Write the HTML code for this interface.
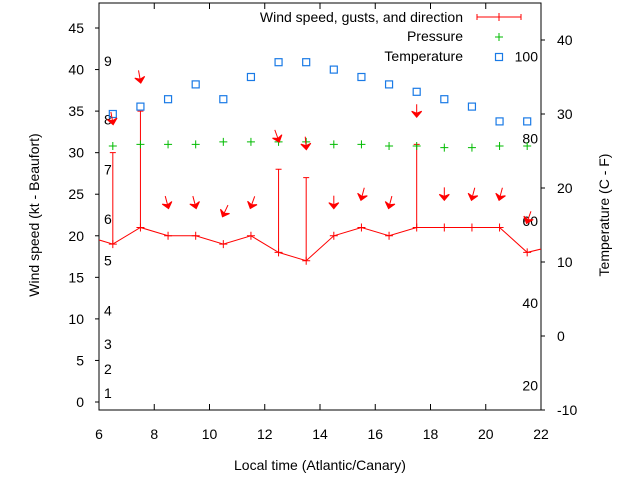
<!DOCTYPE html>
<html><head><meta charset="utf-8"><style>
html,body{margin:0;padding:0;background:#fff}
svg{display:block;font-family:"Liberation Sans",sans-serif;font-size:14px}
</style></head><body>
<svg id="chart" width="640" height="480" viewBox="0 0 640 480" xmlns="http://www.w3.org/2000/svg"></svg>
<script>
const times=[6.5,7.5,8.5,9.5,10.5,11.5,12.5,13.5,14.5,15.5,16.5,17.5,18.5,19.5,20.5,21.5];
const lineTimes=[5.5,6.5,7.5,8.5,9.5,10.5,11.5,12.5,13.5,14.5,15.5,16.5,17.5,18.5,19.5,20.5,21.5,22.5];
const windSpeed=[20,19,21,20,20,19,20,18,17,20,21,20,21,21,21,21,18,18.8];
const gustTimes=[6.5,7.5,12.5,13.5,17.5];
const gusts=[30,35,28,27,31];
const pressure=[30.8,31.0,31.0,31.0,31.3,31.3,31.3,31.3,31.0,31.0,30.8,30.8,30.6,30.6,30.8,30.8];
const temperatureC=[30,31,32,34,32,35,37,37,36,35,34,33,32,31,29,29];
const arrowValue=[33.6,38.6,23.5,23.5,22.5,23.5,31.5,30.6,23.5,24.5,23.5,34.5,24.5,24.5,24.5,21.7];
const windDir=[-10,-10,-15,-15,25,20,-20,-5,0,15,15,0,0,15,15,20];
const xTicks=[6,8,10,12,14,16,18,20,22];
const yTicks=[0,5,10,15,20,25,30,35,40,45];
const y2Ticks=[-10,0,10,20,30,40];
const beaufortLabels=["1","2","3","4","5","6","7","8","9"];
const beaufortY=[1.1,4,7,11,17,22,28,34,41];
const fLabels=[20,40,60,80,100];

const L=99,R=541,T=3,B=410;
const X=t=>L+(t-6)/16*(R-L);
const Y=v=>402-v*(402-28)/45;
const Y2=c=>410-(c+10)*(410-40)/50;
const F2C=f=>(f-32)*5/9;
const NS="http://www.w3.org/2000/svg";
const svg=document.getElementById('chart');
function mk(tag,attrs,parent){const e=document.createElementNS(NS,tag);for(const k in attrs)e.setAttribute(k,attrs[k]);(parent||svg).appendChild(e);return e;}

const defs=mk('defs',{});
const cp=mk('clipPath',{id:'pc'},defs);
mk('rect',{x:L,y:T,width:R-L,height:B-T},cp);

const frame=mk('rect',{x:L,y:T,width:R-L,height:B-T,fill:'none',stroke:'#000','stroke-width':1});



xTicks.forEach(t=>{
  const g=mk('g',{});
  
  
  mk('line',{x1:X(t),x2:X(t),y1:B,y2:B-6,stroke:'#000'},g);
  mk('line',{x1:X(t),x2:X(t),y1:T,y2:T+6,stroke:'#000'},g);
  const tx=mk('text',{x:X(t),y:B+29,'text-anchor':'middle'},g);tx.textContent=t;
});
yTicks.forEach(v=>{
  const g=mk('g',{});
  
  
  mk('line',{x1:L-4,x2:L,y1:Y(v),y2:Y(v),stroke:'#000'},g);
  const tx=mk('text',{x:84,y:Y(v)+5,'text-anchor':'end'},g);tx.textContent=v;
});
y2Ticks.forEach(v=>{
  const g=mk('g',{});
  
  
  mk('line',{x1:R,x2:R+4,y1:Y2(v),y2:Y2(v),stroke:'#000'},g);
  const tx=mk('text',{x:557,y:Y2(v)+5,'text-anchor':'start'},g);tx.textContent=v;
});
beaufortLabels.forEach((s,i)=>{
  const tx=mk('text',{x:104,y:Y(beaufortY[i])+5});
  
  
  tx.textContent=s;
});
fLabels.forEach(f=>{
  const tx=mk('text',{x:538,y:Y2(F2C(f))+5,'text-anchor':'end'});
  
  
  tx.textContent=f;
});

let t1=mk('text',{x:320,y:470,'text-anchor':'middle'});t1.textContent='Local time (Atlantic/Canary)';

let t2=mk('text',{x:0,y:0,'text-anchor':'middle',transform:'translate(39,215) rotate(-90)'});t2.textContent='Wind speed (kt - Beaufort)';

let t3=mk('text',{x:0,y:0,'text-anchor':'middle',transform:'translate(609,215) rotate(-90)'});t3.textContent='Temperature (C - F)';


const pg=mk('g',{'clip-path':'url(#pc)'});
const wl=mk('polyline',{points:lineTimes.map((t,i)=>X(t)+','+Y(windSpeed[i])).join(' '),fill:'none',stroke:'#f00','stroke-width':1},pg);


lineTimes.forEach((t,i)=>{
  const p=mk('path',{d:`M${X(t)-4},${Y(windSpeed[i])}h8M${X(t)},${Y(windSpeed[i])-4}v8`,stroke:'#f00'},pg);
  
  
});
gustTimes.forEach((t,i)=>{
  const idx=lineTimes.indexOf(t);
  const p=mk('path',{d:`M${X(t)},${Y(windSpeed[idx])}V${Y(gusts[i])}M${X(t)-3},${Y(gusts[i])}h6`,stroke:'#f00',fill:'none'},pg);
  
  
});
times.forEach((t,i)=>{
  const p=mk('path',{d:`M${X(t)-4},${Y(pressure[i])}h8M${X(t)},${Y(pressure[i])-4}v8`,stroke:'#0b0'},pg);
  
  
});
times.forEach((t,i)=>{
  const p=mk('rect',{x:X(t)-3.5,y:Y2(temperatureC[i])-3.5,width:7,height:7,fill:'none',stroke:'#1a7ae6','stroke-width':1.2},pg);
  
  
});
times.forEach((t,i)=>{
  const hx=X(t),hy=Y(arrowValue[i]);
  const g=mk('g',{transform:`translate(${hx},${hy}) rotate(${windDir[i]})`},pg);
  
  
  mk('line',{x1:0,y1:-11,x2:0,y2:0,stroke:'#f00'},g);
  mk('path',{d:'M-5,-4L0,2L5,-4L0,-2Z',fill:'#f00',stroke:'#f00'},g);
});

const lg=mk('g',{});


let a=mk('text',{x:463,y:22,'text-anchor':'end'},lg);a.textContent='Wind speed, gusts, and direction';
mk('path',{d:'M477,17h44M477,14v6M521,14v6M499,13v8',stroke:'#f00',fill:'none'},lg);
let b=mk('text',{x:463,y:41,'text-anchor':'end'},lg);b.textContent='Pressure';
mk('path',{d:'M495,37h8M499,33v8',stroke:'#0b0'},lg);
let c=mk('text',{x:463,y:61,'text-anchor':'end'},lg);c.textContent='Temperature';
mk('rect',{x:495.5,y:53.5,width:7,height:7,fill:'none',stroke:'#1a7ae6','stroke-width':1.2},lg);
</script>
</body></html>
